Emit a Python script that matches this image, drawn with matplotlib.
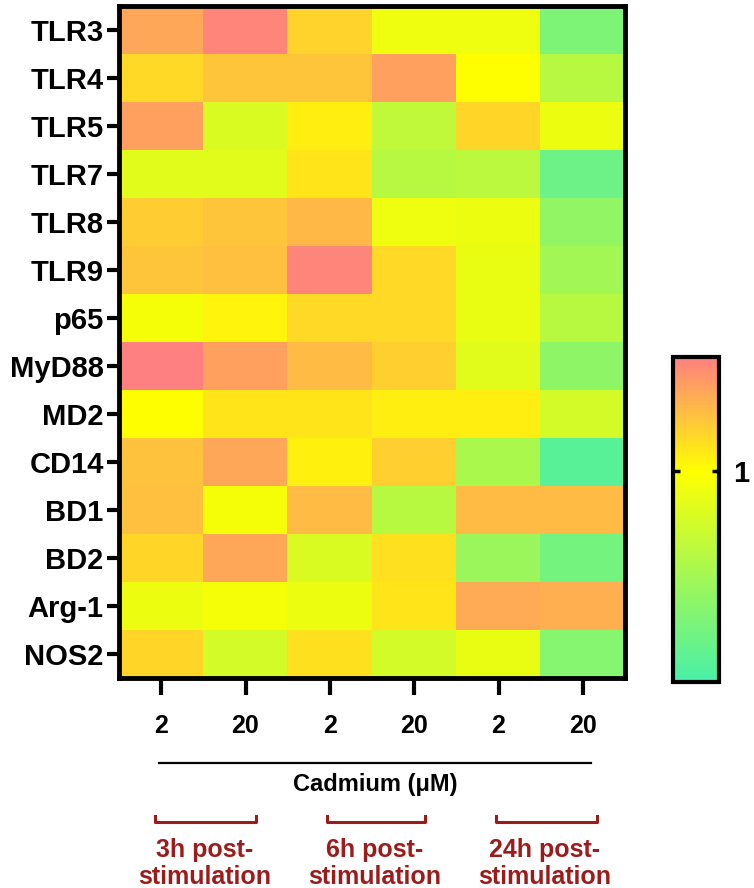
import numpy as np
import matplotlib
matplotlib.use("Agg")
import matplotlib.pyplot as plt
from matplotlib.colors import LinearSegmentedColormap, Normalize
from matplotlib.lines import Line2D

plt.rcParams['font.family'] = ['Liberation Sans', 'DejaVu Sans']
plt.rcParams['font.weight'] = 'bold'

genes = ["TLR3", "TLR4", "TLR5", "TLR7", "TLR8", "TLR9", "p65", "MyD88",
         "MD2", "CD14", "BD1", "BD2", "Arg-1", "NOS2"]
doses = ["2", "20", "2", "20", "2", "20"]
timepoints = [("3h post-", "stimulation"), ("6h post-", "stimulation"),
              ("24h post-", "stimulation")]

# fold change vs control (colour scale centred at 1)
TLR3  = [1.26, 1.36, 1.13, 0.94, 0.94, 0.51]
TLR4  = [1.11, 1.17, 1.17, 1.28, 1.00, 0.73]
TLR5  = [1.28, 0.86, 1.05, 0.76, 1.12, 0.93]
TLR7  = [0.89, 0.89, 1.08, 0.73, 0.74, 0.44]
TLR8  = [1.15, 1.17, 1.21, 0.94, 0.93, 0.58]
TLR9  = [1.17, 1.19, 1.36, 1.11, 0.92, 0.65]
p65   = [0.97, 1.03, 1.11, 1.11, 0.92, 0.73]
MyD88 = [1.38, 1.28, 1.20, 1.14, 0.89, 0.57]
MD2   = [1.00, 1.08, 1.08, 1.05, 1.05, 0.83]
CD14  = [1.18, 1.26, 1.04, 1.14, 0.68, 0.37]
BD1   = [1.19, 0.97, 1.20, 0.73, 1.20, 1.20]
BD2   = [1.12, 1.26, 0.86, 1.09, 0.62, 0.47]
Arg1  = [0.93, 0.97, 0.93, 1.08, 1.25, 1.24]
NOS2  = [1.12, 0.83, 1.09, 0.83, 0.92, 0.54]

data = np.array([TLR3, TLR4, TLR5, TLR7, TLR8, TLR9, p65, MyD88,
                 MD2, CD14, BD1, BD2, Arg1, NOS2])

vmin, vmax, vcenter = 0.3, 1.38, 1.0
cpos = (vcenter - vmin) / (vmax - vmin)
cmap = LinearSegmentedColormap.from_list(
    "gyr", [(0.0, "#48F0A8"), (cpos, "#FFFF00"), (1.0, "#FF8080")])
norm = Normalize(vmin=vmin, vmax=vmax)

W, H = 754, 888
fig = plt.figure(figsize=(W / 100, H / 100), dpi=100)

def fx(px):
    return px / W

def fy(py):
    return 1 - py / H

ax = fig.add_axes([fx(119), fy(678), fx(625) - fx(119), fy(6) - fy(678)])
im = ax.imshow(data, cmap=cmap, norm=norm, aspect='auto', interpolation='nearest')
ax.set_yticks(range(len(genes)))
ax.set_yticklabels(genes, fontsize=21, fontweight='bold')
ax.set_xticks(range(len(doses)))
ax.set_xticklabels(doses, fontsize=18, fontweight='bold')
ax.tick_params(axis='y', length=9, width=3, pad=2)
ax.tick_params(axis='x', length=12, width=3, pad=14)
for s in ax.spines.values():
    s.set_linewidth(3.5)

cax = fig.add_axes([fx(673), fy(682), fx(719) - fx(673), fy(357) - fy(682)])
cb = fig.colorbar(im, cax=cax)
cb.set_ticks([1])
cb.set_ticklabels(["1"])
cb.outline.set_linewidth(3)
cax.tick_params(axis='y', direction='in', length=5, width=2.5, left=True, right=True,
                labelsize=21, pad=10)

# Cadmium line and label
fig.add_artist(Line2D([fx(159), fx(591)], [fy(763), fy(763)], color='black', lw=1.6))
fig.text(fx(375), fy(791), "Cadmium (μM)", ha='center', va='baseline', fontsize=17,
         fontweight='bold')

red = '#9C1C1C'
brackets = [(155, 256), (327, 425), (496, 597)]
label_x = [205, 375, 545]
for (x0, x1), lx, (l1, l2) in zip(brackets, label_x, timepoints):
    fig.add_artist(Line2D([fx(x0), fx(x0), fx(x1), fx(x1)],
                          [fy(816), fy(822), fy(822), fy(816)], color=red, lw=2.2))
    fig.text(fx(lx), fy(857), l1, ha='center', va='baseline', fontsize=18,
             fontweight='bold', color=red)
    fig.text(fx(lx), fy(884), l2, ha='center', va='baseline', fontsize=18,
             fontweight='bold', color=red)

fig.savefig("out.png", dpi=100)
